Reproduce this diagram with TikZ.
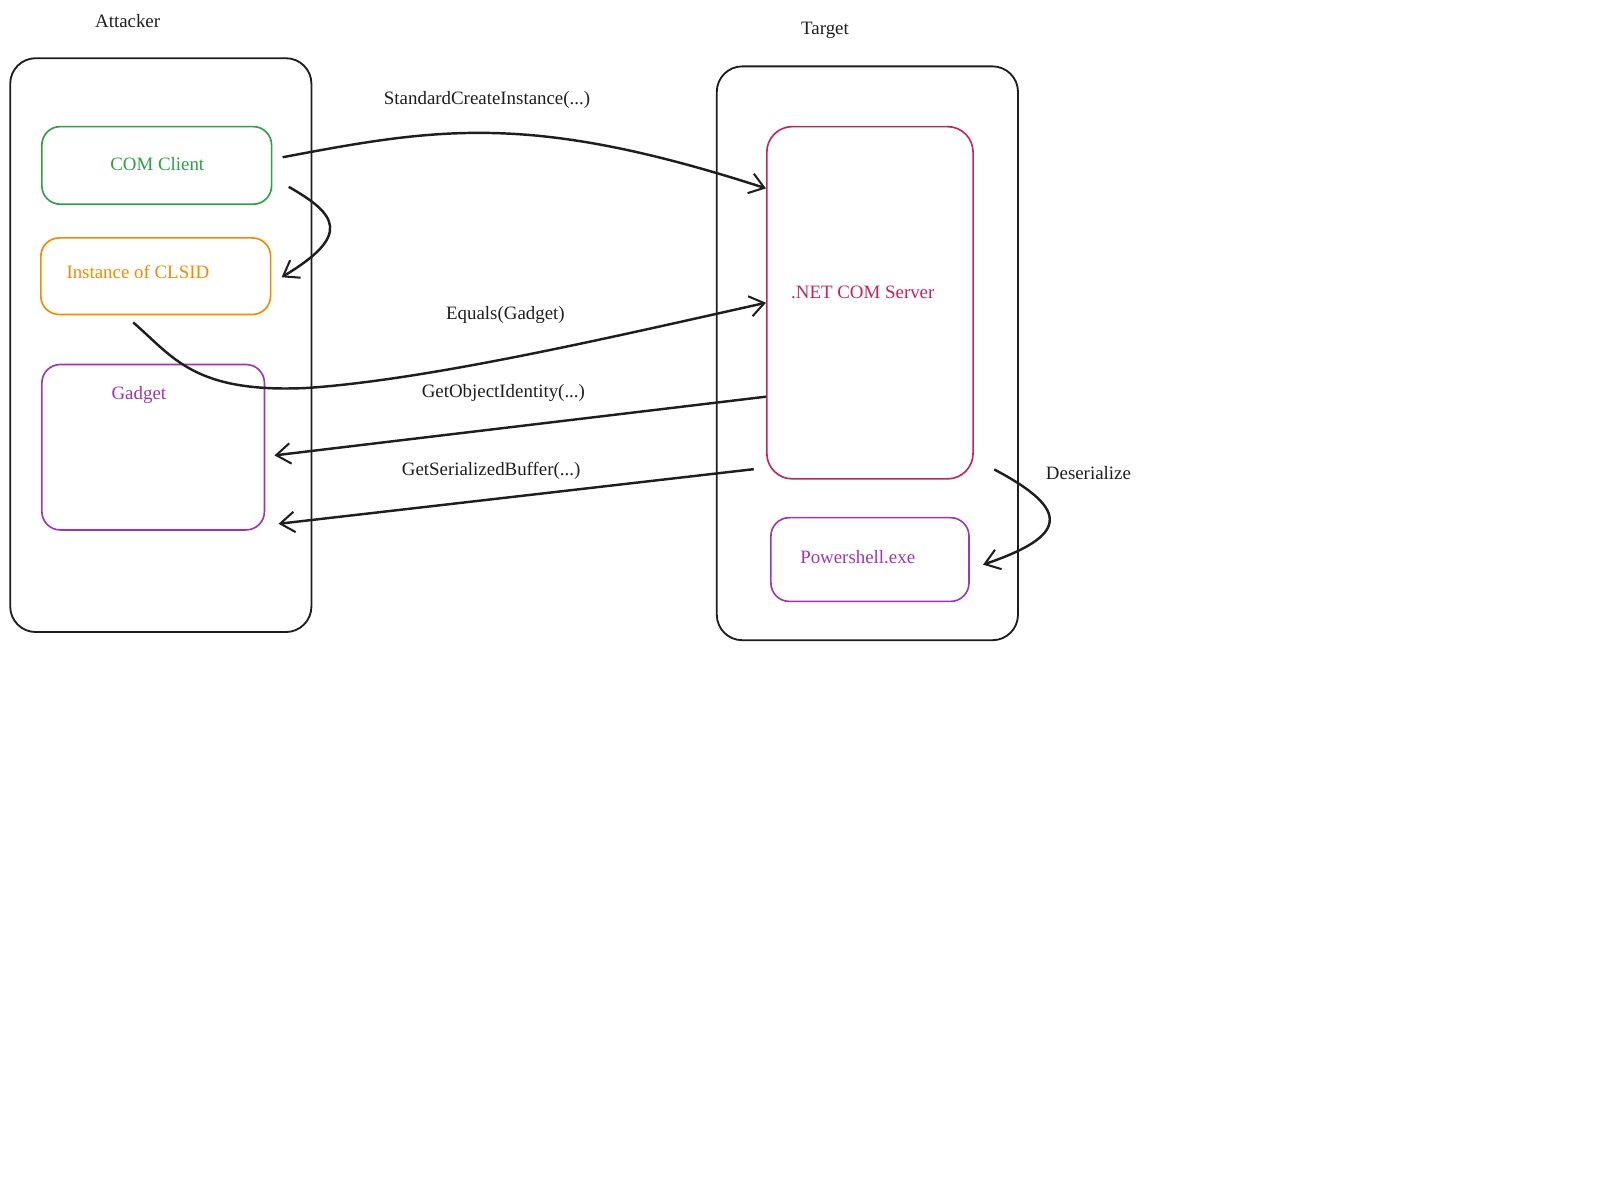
\documentclass[tikz,border=0pt]{standalone}
\usepackage{fontspec}
\setmainfont{Liberation Serif}
\usetikzlibrary{arrows.meta}
\definecolor{cgreen}{HTML}{2F9E44}
\definecolor{corange}{HTML}{F08C00}
\definecolor{cpurple}{HTML}{9C36B5}
\definecolor{ccrimson}{HTML}{C2255C}
\definecolor{cdark}{HTML}{1E1E1E}
\begin{document}
\begin{tikzpicture}[x=1pt,y=-1pt,
  box/.style={draw, rounded corners=18pt, line width=1.6pt, inner sep=0pt},
  bigbox/.style={box, draw=cdark, rounded corners=25pt, line width=1.8pt},
  lbl/.style={font=\fontsize{18.5}{20}\selectfont, text=cdark},
  conn/.style={draw=cdark, line width=2.4pt, -{Straight Barb[length=14pt,width=20pt,line width=2pt]}}]
\useasboundingbox (0,0) rectangle (1567,1175);
\node[bigbox, minimum width=295pt, minimum height=562pt] (att) at (157.5,338) {};
\node[bigbox, minimum width=295pt, minimum height=562pt] (tgt) at (849.5,346) {};
\node[lbl] (attl) at (125,21) {Attacker};
\node[lbl] (tgtl) at (808,30) {Target};
\node[box, draw=cgreen, minimum width=225pt, minimum height=76pt] (cc) at (153.5,162) {};
\node[lbl, text=cgreen] (cct) at (154,161) {COM Client};
\node[box, draw=corange, minimum width=225pt, minimum height=75pt] (ins) at (152.5,270.5) {};
\node[lbl, text=corange] (inst) at (135,266) {Instance of CLSID};
\node[box, draw=cpurple, minimum width=218pt, minimum height=162pt] (gad) at (150,438) {};
\node[lbl, text=cpurple] (gadt) at (136,387) {Gadget};
\node[box, draw=ccrimson, rounded corners=25pt, minimum width=202pt, minimum height=345pt] (srv) at (852,296.5) {};
\node[lbl, text=ccrimson] (srvt) at (845,286) {.NET COM Server};
\node[box, draw=cpurple, minimum width=194pt, minimum height=82pt] (ps) at (852,548) {};
\node[lbl, text=cpurple] (pst) at (840,546) {Powershell.exe};
\node[lbl] (l1) at (477,98) {StandardCreateInstance(...)};
\node[lbl] (l2) at (495,308) {Equals(Gadget)};
\node[lbl] (l3) at (493,385) {GetObjectIdentity(...)};
\node[lbl] (l4) at (481,461) {GetSerializedBuffer(...)};
\node[lbl] (l5) at (1066,463) {Deserialize};
\draw[conn] ([shift={(10,-8)}]cc.east) .. controls (430,125) and (520,110) .. ([yshift=112]srv.west);
\draw[conn] ([shift={(16,21)}]cc.east) .. controls (330,210) and (345,230) .. ([shift={(10,1)}]ins.east);
\draw[conn] ([shift={(-22,7)}]ins.south) .. controls (170,350) and (190,385) .. (300,380) .. controls (420,372) and (600,330) .. (srv.west);
\draw[conn] ([yshift=-92]srv.west) -- ([shift={(9,8)}]gad.east);
\draw[conn] ([shift={(-12,163)}]srv.west) -- ([shift={(13,75)}]gad.east);
\draw[conn] ([shift={(20,-10)}]srv.south east) .. controls (1050,500) and (1045,525) .. ([shift={(13,5)}]ps.east);
\end{tikzpicture}
\end{document}
